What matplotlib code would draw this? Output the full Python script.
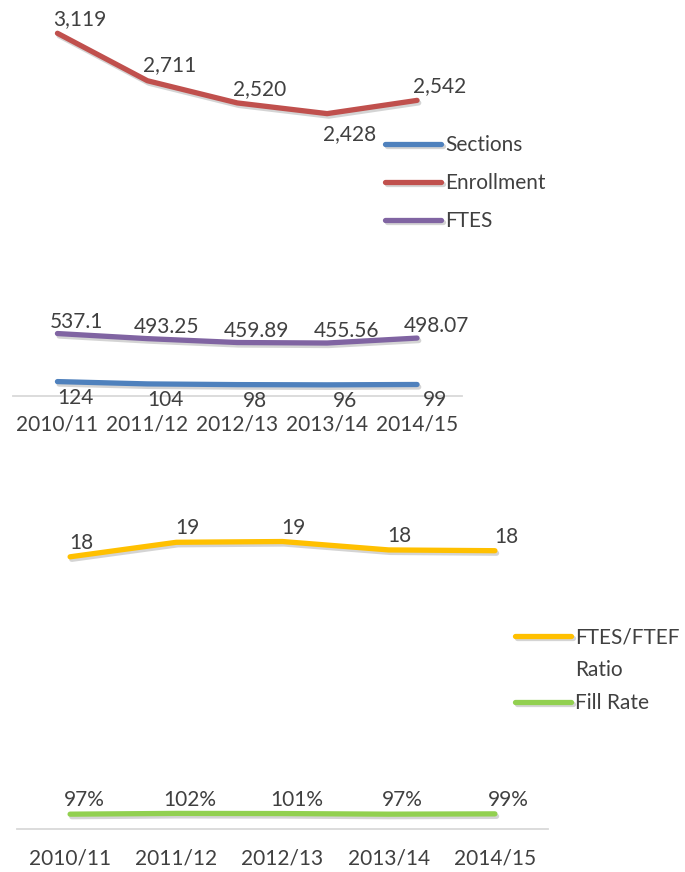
import numpy as np
import matplotlib
matplotlib.use("Agg")
import matplotlib.pyplot as plt
import matplotlib.patheffects as pe
from matplotlib.lines import Line2D

plt.rcParams["font.family"] = ["Lato", "DejaVu Sans"]

# ── data ────────────────────────────────────────────────────────────────
years = ["2010/11", "2011/12", "2012/13", "2013/14", "2014/15"]
sections = [124, 104, 98, 96, 99]
enrollment = [3119, 2711, 2520, 2428, 2542]
ftes = [537.1, 493.25, 459.89, 455.56, 498.07]
ftes_ftef = [17.8, 18.75, 18.8, 18.25, 18.2]
fill_rate = [0.97, 1.02, 1.01, 0.97, 0.99]

TEXT = "#404040"
FS = 15
W, H = 685, 872
fig = plt.figure(figsize=(W / 100, H / 100), dpi=100)

shadow = [pe.SimpleLineShadow(offset=(1.2, -1.8), alpha=0.25, shadow_color="#555555"),
          pe.Normal()]


def px_axes(left, right, top, bottom):
    return fig.add_axes([left / W, 1 - bottom / H, (right - left) / W, (bottom - top) / H])


def style(ax, pad):
    x = np.arange(len(years))
    ax.set_xlim(-0.5, len(years) - 0.5)
    ax.set_xticks(x)
    ax.set_xticklabels(years, fontsize=FS, color=TEXT)
    ax.tick_params(axis="x", length=0, pad=pad)
    ax.set_yticks([])
    for s in ["top", "left", "right"]:
        ax.spines[s].set_visible(False)
    ax.spines["bottom"].set_color("#D9D9D9")
    ax.spines["bottom"].set_linewidth(1.3)
    ax.patch.set_alpha(0)


def series(ax, vals, color, label, fmt, dx, dy):
    x = np.arange(len(vals))
    line, = ax.plot(x, vals, color=color, lw=3.8, solid_capstyle="round",
                    solid_joinstyle="round", label=label, path_effects=shadow)
    for i, v in enumerate(vals):
        d = dy[i] if isinstance(dy, (list, tuple)) else dy
        ax.annotate(fmt(v), (i, v), xytext=(dx, d), textcoords="offset points",
                    ha="center", va="center", fontsize=FS, color=TEXT)
    return line


# ── top panel ───────────────────────────────────────────────────────────
ax1 = px_axes(12.5, 462, 0, 396)
style(ax1, 13)
ax1.set_ylim(0, 3405)
series(ax1, sections, "#4F81BD", "Sections", lambda v: f"{v:d}", 13, -11.5)
series(ax1, enrollment, "#C0504D", "Enrollment", lambda v: f"{v:,d}", 16,
       [10, 11, 10, -15, 10])
series(ax1, ftes, "#8064A2", "FTES", lambda v: f"{v:g}", 14, 8.5)
leg1 = ax1.legend(loc="center left", bbox_to_anchor=(385 / W, 1 - 183 / H),
                  bbox_transform=fig.transFigure, frameon=False, fontsize=FS,
                  handlelength=2.7, handletextpad=0.2, labelspacing=0.86,
                  borderpad=0, borderaxespad=0)
for t in leg1.get_texts():
    t.set_color(TEXT)

# ── bottom panel ────────────────────────────────────────────────────────
ax2 = px_axes(17, 548, 462, 829)
style(ax2, 14)
ax2.set_ylim(0, 24)
l_ratio = series(ax2, ftes_ftef, "#FFC000", "FTES/FTEF", lambda v: f"{v:.0f}", 8, 10)
l_fill = series(ax2, fill_rate, "#92D050", "Fill Rate", lambda v: f"{v:.0%}", 10, 10)
# wrapped legend label: second line gets an empty handle, like Excel's wrap
blank = Line2D([], [], alpha=0)
leg2 = ax2.legend([l_ratio, blank, l_fill], ["FTES/FTEF", "Ratio", "Fill Rate"],
                  loc="upper left", bbox_to_anchor=(515 / W, 1 - 627 / H),
                  bbox_transform=fig.transFigure, frameon=False, fontsize=FS,
                  handlelength=2.7, handletextpad=0.2, labelspacing=0.62,
                  borderpad=0, borderaxespad=0)
for t in leg2.get_texts():
    t.set_color(TEXT)

fig.savefig("out.png", dpi=100)
